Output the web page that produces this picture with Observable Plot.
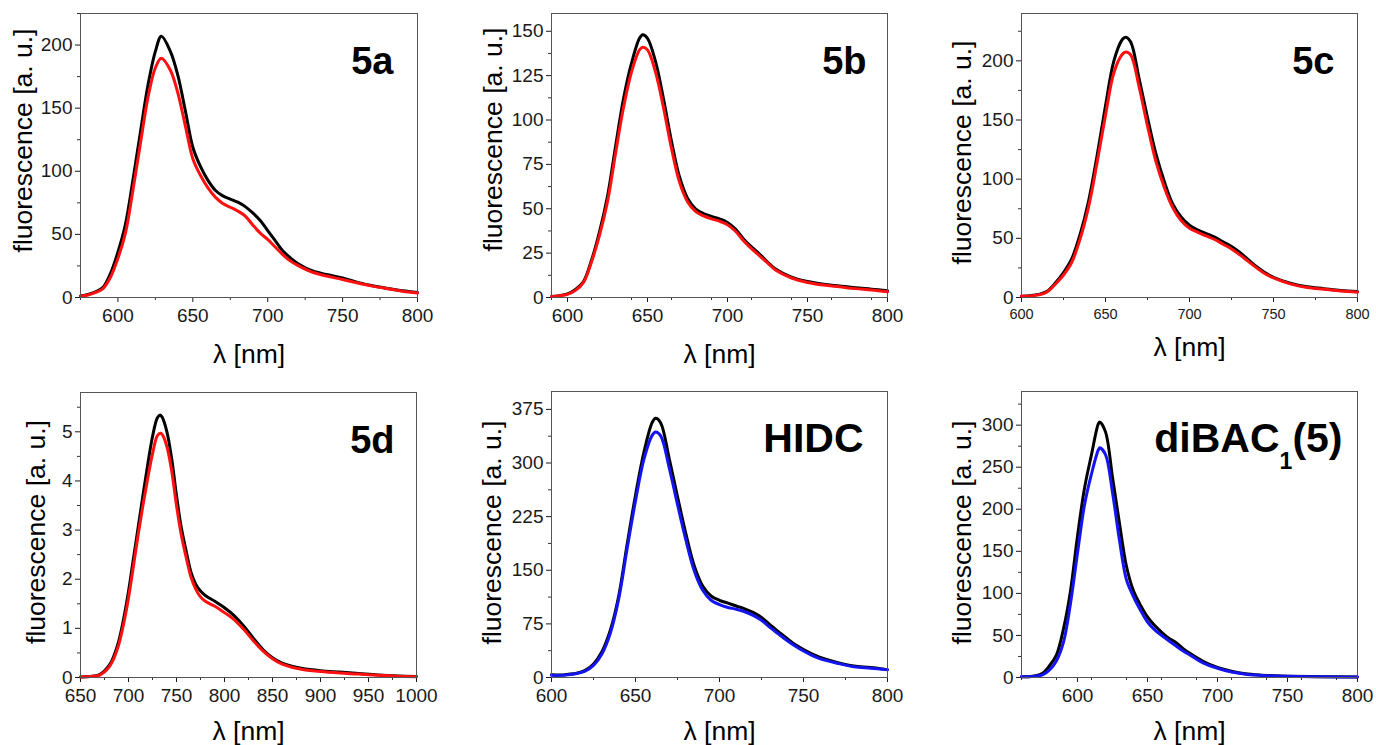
<!DOCTYPE html>
<html><head><meta charset="utf-8">
<script src="https://cdn.jsdelivr.net/npm/d3@7"></script>
<script src="https://cdn.jsdelivr.net/npm/@observablehq/plot@0.6"></script>
<style>
body{margin:0;background:#fff;}
#wrap{position:relative;width:1376px;height:745px;overflow:hidden;background:#fff;}
#wrap svg{position:absolute;}
</style></head><body><div id="wrap"></div>
<script>
// ---- data (wavelength in nm, fluorescence in a.u.) ----
const wl5a = [575,580,585,590,595,600,605,610,615,620,625,629,635,640,645,650,655,660,665,670,675,680,685,690,695,700,705,710,715,720,730,740,750,760,770,780,790,800];
const black5a = [1.3,2.5,4.5,8,19,36,58,93,131,168,195,207,195,176,148,119,104,93,85,80.5,78,75.5,72,67,61,53,45,37,31.5,27,21,18,15.4,12,9.3,7.2,5.3,4];
const red5a = [1,2,4,7,16,31,51,85,122,158,182,189.5,180,162,136,110,97,87,79.5,74.5,71.5,68.5,64.5,57.5,51,46,40,34,29,25.5,20,16.8,14.3,11.5,9,7,5,3.5];

const wl5b = [590,595,600,605,610,615,620,625,630,635,640,645,647,650,655,660,665,670,675,680,685,690,695,700,705,710,715,720,725,730,740,750,760,770,780,790,800];
const black5b = [0.5,1,2,4.5,9,21,37,57,85,112,132,146,148,146,133,112,88,68,56,50,47.3,45.7,44.3,42.3,38.5,33,28.5,24.5,20,16,11.5,9,7.5,6.5,5.5,4.7,3.8];
const red5b = [0.5,1,1.8,4,8.5,20,35,54,81,107,127,139.5,141,139.5,127,107,84,65,54,48.5,46,44.3,43,41,37.3,32,27.5,23.5,19.5,15.5,11,8.5,7,6,5,4.2,3.2];

const wl5c = [600,605,610,615,620,625,630,635,640,645,650,655,660,662,665,670,675,680,685,690,695,700,705,710,715,720,725,730,735,740,745,750,760,770,780,790,800];
const black5c = [1,1.5,2.5,5,12,21,33,54,82,120,162,200,218,220,216,185,152,121.5,98,79,68,61,57,54,51,47,43,38,32,26,21,17,12,9,7.5,6,5];
const red5c = [1,1.3,2.2,4.5,11,19,30,50,77,114,154,190,205.5,207.5,205,178,145,115,93,76,65,58.5,55,52,49,45,41,36,30.5,25,20,16.5,11.5,8.5,7,5.5,4.5];

const wl5d = [650,660,670,680,685,690,695,700,705,710,715,720,725,730,733,735,740,745,750,755,760,765,770,775,780,790,800,810,820,830,840,850,860,870,880,900,920,940,960,980,1000];
const black5d = [0.01,0.02,0.06,0.25,0.45,0.75,1.2,1.75,2.4,3.05,3.7,4.33,4.9,5.28,5.34,5.3,5.0,4.45,3.7,3.05,2.58,2.15,1.9,1.76,1.67,1.55,1.42,1.26,1.05,0.8,0.57,0.4,0.29,0.23,0.19,0.14,0.11,0.08,0.05,0.03,0.02];
const red5d = [0.01,0.02,0.05,0.22,0.4,0.68,1.1,1.62,2.25,2.9,3.5,4.05,4.55,4.92,4.97,4.95,4.7,4.2,3.5,2.9,2.45,2.05,1.8,1.64,1.55,1.45,1.32,1.18,0.98,0.75,0.54,0.38,0.27,0.21,0.17,0.12,0.09,0.07,0.045,0.025,0.015];

const wlHIDC = [600,605,610,615,620,625,630,635,640,645,650,655,660,662,665,670,675,680,685,690,695,700,705,710,715,720,725,730,735,740,745,750,755,760,770,780,790,800];
const blackHIDC = [4,3.5,4.5,6,10,19,36,66,114,186,255,315,357,362.5,356,307,253,201,156,128,114,108,104,100,96,91,84,74,64,55,46,39,33,28,21,16,14,11];
const blueHIDC = [3,3,4,5.5,9,17,33,62,110,180,247,305,339,343.5,338,294,242,192,149,122,108,102,98,95.5,92,87,80,70,61,52,44,37,31,26,20,15,13,11];

const wlDiBAC = [560,565,570,575,580,585,590,595,600,605,610,615,616,620,625,630,635,640,645,650,655,660,665,670,675,680,690,700,710,720,730,740,750,775,800];
const blackDiBAC = [1,1,2,5,14,27,58,103,168,225,265,302,303.6,292,238,183,132,103,86,72,62,54,47,42,35,29,19,12,7.5,4.5,3,2.2,1.6,1,0.6];
const blueDiBAC = [1,1,1.5,3,9,20,42,88,148,205,242,271,273,265,220,163,116,96,80,66,57,50,44,38,32,27,17,11,6.5,4,2.8,2,1.4,0.8,0.5];

// ---- tick labels ----
const xTicks5a = [600,650,700,750,800];
const yTicks5a = [0,50,100,150,200];
const xTicks5b = [600,650,700,750,800];
const yTicks5b = [0,25,50,75,100,125,150];
const xTicks5c = [600,650,700,750,800];
const yTicks5c = [0,50,100,150,200];
const xTicks5d = [650,700,750,800,850,900,950,1000];
const yTicks5d = [0,1,2,3,4,5];
const xTicksHIDC = [600,650,700,750,800];
const yTicksHIDC = [0,75,150,225,300,375];
const xTicksDiBAC = [600,650,700,750,800];
const yTicksDiBAC = [0,50,100,150,200,250,300];

const xLabel = "λ [nm]";
const yLabel = "fluorescence [a. u.]";

// ---- layout ----
const panels = [
  {name:"5a", wl:wl5a, ref:black5a, s:red5a, color:"#ff1010", xDomain:[575,800], xTicks:xTicks5a, xMinor:25, yDomain:[0,225], yTicks:yTicks5a, yMinor:25,
   box:[80,13,417,297], xFont:19, yLabDx:-57, yLabDy:-15, xLabDy:65, nameSize:38, nameDx:-24},
  {name:"5b", wl:wl5b, ref:black5b, s:red5b, color:"#ff1010", xDomain:[590,800], xTicks:xTicks5b, xMinor:25, yDomain:[0,160], yTicks:yTicks5b, yMinor:12.5,
   box:[551,13,887,297], xFont:19, yLabDx:-58, yLabDy:-16, xLabDy:65, nameSize:38, nameDx:-21},
  {name:"5c", wl:wl5c, ref:black5c, s:red5c, color:"#ff1010", xDomain:[600,800], xTicks:xTicks5c, xMinor:25, yDomain:[0,240], yTicks:yTicks5c, yMinor:25,
   box:[1021,13,1357,297], xFont:14.5, yLabDx:-59, yLabDy:-3, xLabDy:58, nameSize:38, nameDx:-23},
  {name:"5d", wl:wl5d, ref:black5d, s:red5d, color:"#ff1010", xDomain:[650,1000], xTicks:xTicks5d, xMinor:25, yDomain:[0,5.8], yTicks:yTicks5d, yMinor:0.5,
   box:[80,392,416,677], xFont:19, yLabDx:-44, yLabDy:-3, xLabDy:62, nameSize:38, nameDx:-22},
  {name:"HIDC", wl:wlHIDC, ref:blackHIDC, s:blueHIDC, color:"#1414f0", xDomain:[600,800], xTicks:xTicksHIDC, xMinor:25, yDomain:[0,400], yTicks:yTicksHIDC, yMinor:37.5,
   box:[551,391,887,677], xFont:19, yLabDx:-58.5, yLabDy:-2, xLabDy:62, nameSize:41, nameDx:-24},
  {name:"diBAC1(5)", wl:wlDiBAC, ref:blackDiBAC, s:blueDiBAC, color:"#1414f0", xDomain:[560,800], xTicks:xTicksDiBAC, xMinor:25, yDomain:[0,340], yTicks:yTicksDiBAC, yMinor:25,
   box:[1021,391,1357,677], xFont:19, yLabDx:-58.5, yLabDy:-2, xLabDy:62, nameSize:41, nameDx:-15}
];

const wrap = document.getElementById("wrap");
const FONT = "'Liberation Sans', Arial, Helvetica, sans-serif";

function minorTicks(domain, step, major) {
  return d3.range(domain[0], domain[1] + 1e-9, step)
    .map(v => +v.toFixed(6))
    .filter(v => !major.some(m => Math.abs(m - v) < 1e-9));
}

for (const p of panels) {
  const [l, t, r, b] = p.box;
  const mL = 80, mR = 20, mT = 12, mB = 80;
  const W = r - l, H = b - t;
  const refRows = p.wl.map((x, i) => ({x, y: p.ref[i]}));
  const sRows = p.wl.map((x, i) => ({x, y: p.s[i]}));
  const svg = Plot.plot({
    width: W + mL + mR, height: H + mT + mB,
    marginLeft: mL, marginRight: mR, marginTop: mT, marginBottom: mB,
    style: {background: "transparent", overflow: "visible", fontFamily: FONT, color: "#1a1a1a"},
    x: {domain: p.xDomain},
    y: {domain: p.yDomain},
    marks: [
      Plot.axisX({ticks: p.xTicks, tickSize: 5, tickPadding: 6, fontSize: p.xFont, label: null, tickFormat: d => String(d), color: "#1a1a1a"}),
      Plot.axisX({ticks: minorTicks(p.xDomain, p.xMinor, p.xTicks), tickSize: 3, text: null, label: null, color: "#333"}),
      Plot.axisY({ticks: p.yTicks, tickSize: 5, tickPadding: 3, fontSize: 19, label: null, tickFormat: d => String(d), color: "#1a1a1a"}),
      Plot.axisY({ticks: minorTicks(p.yDomain, p.yMinor, p.yTicks), tickSize: 3, text: null, label: null, color: "#333"}),
      Plot.line(refRows, {x: "x", y: "y", stroke: "#000", strokeWidth: 3, curve: "catmull-rom"}),
      Plot.line(sRows, {x: "x", y: "y", stroke: p.color, strokeWidth: 3, curve: "catmull-rom"}),
      Plot.frame({stroke: "#555", strokeWidth: 1}),
      Plot.text([p.name], {text: d => d, frameAnchor: "top-right", dx: p.nameDx, dy: 60, textAnchor: "end", lineAnchor: "bottom", fontSize: p.nameSize, fontWeight: "bold", fill: "#000"}),
      Plot.text([yLabel], {text: d => d, frameAnchor: "left", dx: p.yLabDx, dy: p.yLabDy, rotate: -90, textAnchor: "middle", lineAnchor: "middle", fontSize: 26.5, fill: "#000"}),
      Plot.text([xLabel], {text: d => d, frameAnchor: "bottom", dy: p.xLabDy, textAnchor: "middle", lineAnchor: "bottom", fontSize: 26.5, fill: "#000"})
    ]
  });
  svg.style.left = (l - mL) + "px";
  svg.style.top = (t - mT) + "px";
  // subscript in diBAC1(5)
  svg.querySelectorAll("text").forEach(el => {
    if (el.textContent === "diBAC1(5)") {
      el.textContent = "";
      const ns = "http://www.w3.org/2000/svg";
      const a = document.createElementNS(ns, "tspan"); a.textContent = "diBAC";
      const s = document.createElementNS(ns, "tspan"); s.textContent = "1"; s.setAttribute("font-size", "23"); s.setAttribute("dy", "17");
      const c = document.createElementNS(ns, "tspan"); c.textContent = "(5)"; c.setAttribute("dy", "-17");
      el.append(a, s, c);
    }
  });
  wrap.appendChild(svg);
}
</script>
</body></html>
